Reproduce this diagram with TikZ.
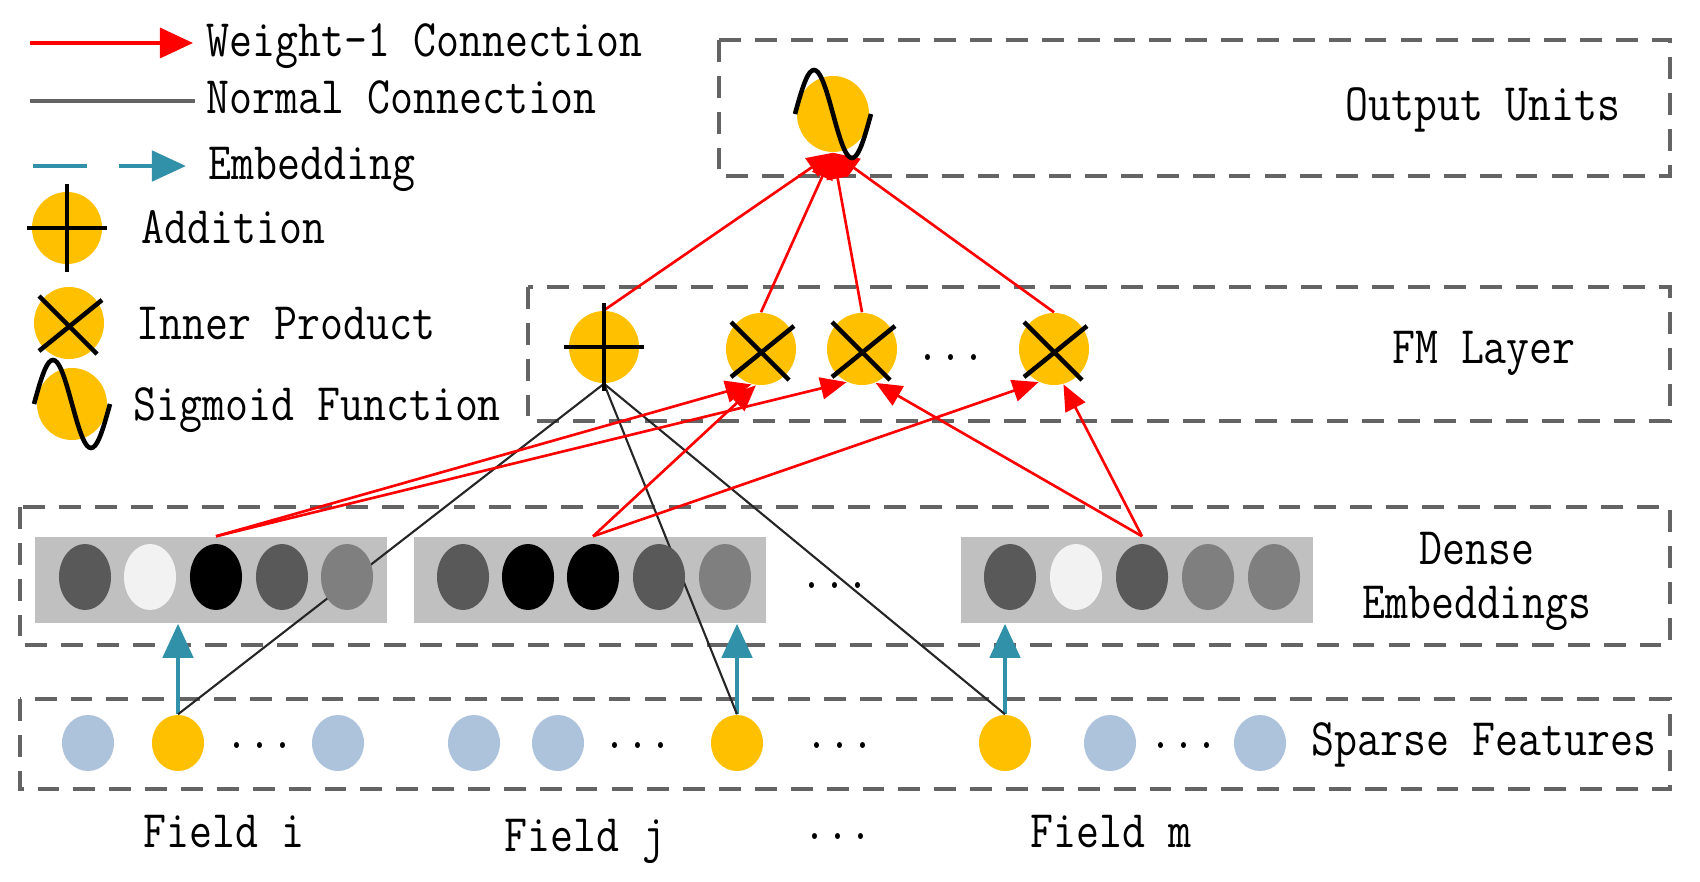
\documentclass[tikz,border=0pt]{standalone}
\usepackage{fontspec}
\newfontfamily\reffont[FakeStretch=0.845]{Latin Modern Mono}
\usetikzlibrary{arrows.meta,shapes.geometric,calc}
\definecolor{opyellow}{RGB}{255,192,0}
\definecolor{sparseblue}{RGB}{173,194,219}
\definecolor{embteal}{RGB}{49,145,168}
\definecolor{boxgray}{RGB}{100,100,100}
\definecolor{embfill}{RGB}{192,192,192}
\definecolor{cdark}{RGB}{89,89,89}
\definecolor{clight}{RGB}{242,242,242}
\definecolor{cmid}{RGB}{127,127,127}
\definecolor{wred}{RGB}{255,0,0}
\newcommand{\plusmark}[1]{%
  \draw[glyph] ($(#1.north)+(0,-7)$) -- ($(#1.south)+(0,7)$);
  \draw[glyph] ($(#1.west)+(-4,0)$) -- ($(#1.east)+(4,0)$);}
\newcommand{\crossmark}[1]{%
  \draw[glyph] ($(#1.center)+(-30,-27)$) -- ($(#1.center)+(28,31)$);
  \draw[glyph] ($(#1.center)+(33,-23)$) -- ($(#1.center)+(-30,28)$);}
\newcommand{\sigmark}[1]{%
  \draw[glyph, shift={(#1.center)}] plot[domain=0:360, samples=37, smooth] ({(\x/180-1)*38}, {-44*sin(\x)});}
\begin{document}
\begin{tikzpicture}[x=0.01cm, y=-0.01cm,
  font=\reffont\fontsize{15}{17}\selectfont,
  layerbox/.style={draw=boxgray, line width=1.4pt, dash pattern=on 6.2pt off 4pt},
  opnode/.style={ellipse, fill=opyellow, minimum width=0.70cm, minimum height=0.72cm, inner sep=0pt},
  sparse/.style={ellipse, minimum width=0.52cm, minimum height=0.56cm, inner sep=0pt},
  embc/.style={ellipse, minimum width=0.52cm, minimum height=0.66cm, inner sep=0pt},
  embrect/.style={rectangle, fill=embfill, minimum width=3.52cm, minimum height=0.86cm, inner sep=0pt},
  glyph/.style={line width=1.3pt, black},
  wone/.style={draw=wred, line width=0.75pt, -{Triangle[length=0.26cm,width=0.22cm]}},
  normal/.style={draw=black!85, line width=0.6pt},
  embed/.style={draw=embteal, line width=1.3pt, -{Triangle[length=0.34cm,width=0.3cm]}},
  lbl/.style={inner sep=0pt, text height=9.1pt, text depth=0pt},
  dots/.style={inner sep=0pt}]
\useasboundingbox (0,0) rectangle (1700,882);

% layer boxes
\draw[layerbox] (719,40) rectangle (1670,176);
\draw[layerbox] (528,287) rectangle (1670,421);
\draw[layerbox] (20,507) rectangle (1670,645);
\draw[layerbox] (20,699) rectangle (1670,789);

% layer labels
\node[lbl] (tout) at (1483,105) {Output Units};
\node[lbl] (tfm) at (1484,347) {FM Layer};
\node[lbl] (tdense) at (1477,548) {Dense};
\node[lbl] (temb) at (1477,602) {Embeddings};
\node[lbl] (tsparse) at (1484,739) {Sparse Features};

% legend
\coordinate (lw0) at (30,43); \coordinate (lw1) at (193,43);
\draw[wone, line width=1pt, -{Triangle[length=0.33cm,width=0.3cm]}] (lw0) -- (lw1);
\node[lbl, anchor=west] (lwt) at (206,41) {Weight-1 Connection};
\coordinate (ln0) at (30,101); \coordinate (ln1) at (195,101);
\draw[draw=boxgray, line width=1.4pt] (ln0) -- (ln1);
\node[lbl, anchor=west] (lnt) at (206,98) {Normal Connection};
\coordinate (le0) at (33,166); \coordinate (le1) at (186,166);
\draw[embed, line width=1.4pt, dash pattern=on 15.4pt off 9pt] (le0) -- (le1);
\node[lbl, anchor=west] (let) at (208,163) {Embedding};
\node[opnode] (ladd) at (67,228) {};
\plusmark{ladd}
\node[lbl, anchor=west] (laddt) at (141,228) {Addition};
\node[opnode] (lip) at (69,323) {};
\crossmark{lip}
\node[lbl, anchor=west] (lipt) at (136,323) {Inner Product};
\node[opnode] (lsig) at (72,404) {};
\sigmark{lsig}
\node[lbl, anchor=west] (lsigt) at (133,404) {Sigmoid Function};

% embedding rectangles
\node[embrect] (emb1) at (211,580) {};
\node[embrect] (emb2) at (590,580) {};
\node[embrect] (emb3) at (1137,580) {};
\node[dots] (edots) at (835,586) {...};

% sparse features
\node[sparse, fill=sparseblue] (s1) at (88,743) {};
\node[sparse, fill=opyellow] (si) at (178,743) {};
\node[dots] (sd1) at (260,746) {...};
\node[sparse, fill=sparseblue] (s3) at (338,743) {};
\node[sparse, fill=sparseblue] (s4) at (474,743) {};
\node[sparse, fill=sparseblue] (s5) at (558,743) {};
\node[dots] (sd2) at (638,746) {...};
\node[sparse, fill=opyellow] (sj) at (737,743) {};
\node[dots] (sd3) at (840,746) {...};
\node[sparse, fill=opyellow] (sm) at (1005,743) {};
\node[sparse, fill=sparseblue] (s8) at (1110,743) {};
\node[dots] (sd4) at (1184,746) {...};
\node[sparse, fill=sparseblue] (s9) at (1260,743) {};

% field labels
\node[lbl] (fi) at (224,831) {Field i};
\node[lbl] (fj) at (585,835) {Field j};
\node[dots] (fd) at (838,837) {...};
\node[lbl] (fm) at (1111,831) {Field m};

% FM layer and output nodes
\node[opnode] (add) at (604,347) {};
\node[opnode] (ip1) at (761,349) {};
\node[opnode] (ip2) at (862,349) {};
\node[opnode] (ip3) at (1054,349) {};
\node[dots] (fmdots) at (951,358) {...};
\node[opnode, minimum width=0.72cm, minimum height=0.76cm] (sig) at (833,114) {};

% embedding arrows
\draw[embed] (si.north) -- (si.north |- emb1.south);
\draw[embed] (sj.north) -- (sj.north |- emb2.south);
\draw[embed] (sm.north) -- (sm.north |- emb3.south);

% normal connections
\draw[normal] (add.south) -- (si.north);
\draw[normal] (add.south) -- (sj.north);
\draw[normal] (add.south) -- (sm.north);

% embedding circles
\foreach \n/\xx/\cc in {a1/85/cdark, a2/150/clight, a3/216/black, a4/282/cdark, a5/347/cmid,
  b1/463/cdark, b2/528/black, b3/593/black, b4/659/cdark, b5/725/cmid,
  c1/1010/cdark, c2/1076/clight, c3/1142/cdark, c4/1208/cmid, c5/1274/cmid}
  \node[embc, fill=\cc] (\n) at (\xx,577) {};

% weight-1 connections from embeddings to FM layer
\coordinate (e1) at (a3 |- emb1.north);
\coordinate (e2) at (b3 |- emb2.north);
\coordinate (e3) at (c3 |- emb3.north);
\draw[wone] (e1) -- (ip1.255);
\draw[wone] (e1) -- (ip2.245);
\draw[wone] (e2) -- (ip1.262);
\draw[wone] (e2) -- (ip3.245);
\draw[wone] (e3) -- (ip2.292);
\draw[wone] (e3) -- (ip3.285);

% weight-1 connections to output
\draw[wone] (add.north) -- (sig.south);
\draw[wone] (ip1.north) -- (sig.south);
\draw[wone] (ip2.north) -- (sig.south);
\draw[wone] (ip3.north) -- (sig.south);

% glyphs
\plusmark{add}
\crossmark{ip1}
\crossmark{ip2}
\crossmark{ip3}
\sigmark{sig}
\end{tikzpicture}
\end{document}
